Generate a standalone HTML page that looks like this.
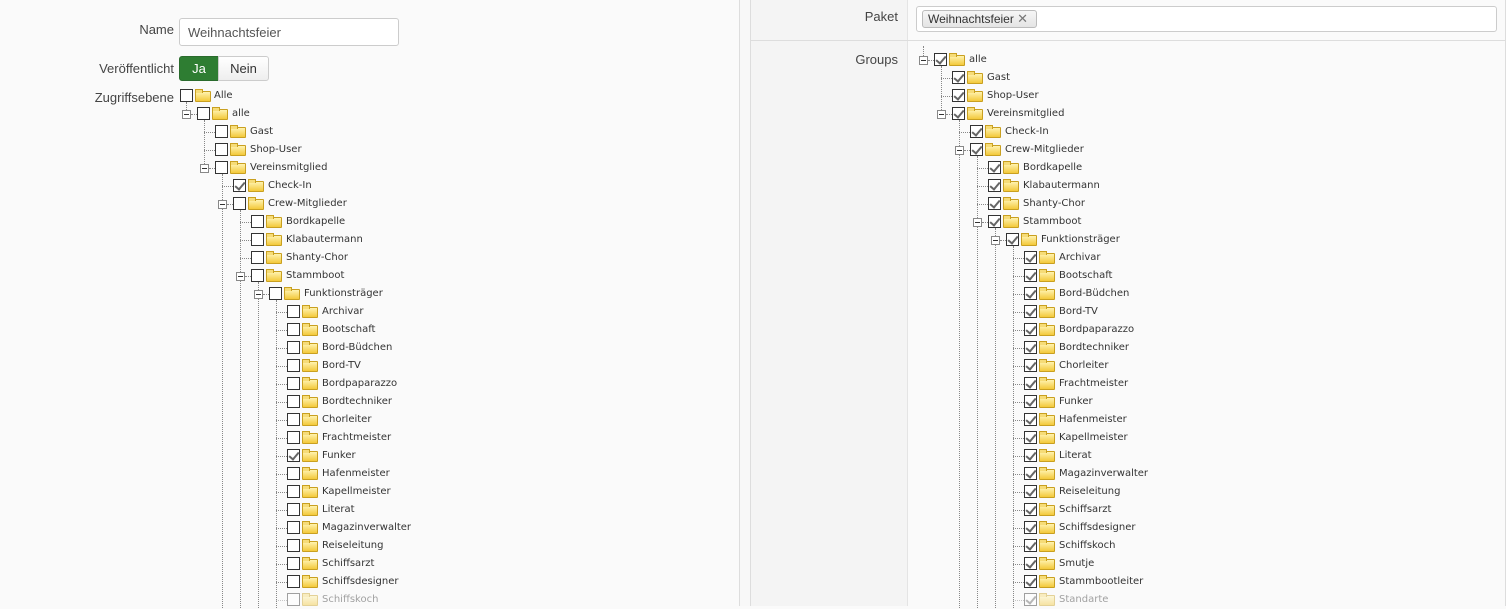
<!DOCTYPE html>
<html><head><meta charset="utf-8"><style>
*{margin:0;padding:0;box-sizing:border-box}
body{width:1506px;height:606px;overflow:hidden;background:#fafafa;position:relative;font-family:"Liberation Sans",Arial,sans-serif;color:#333}
.a{position:absolute}
.lbl{position:absolute;font-size:13px;color:#444;text-align:right;line-height:16px}
.r{position:absolute;height:18px;width:300px;margin-top:2px}
.cb{position:absolute;left:0;top:2px;width:13px;height:13px;border:1px solid #333;background:#fff}
.ck .cb:after{content:"";position:absolute;left:3px;top:0px;width:4px;height:8px;border-right:2px solid #666;border-bottom:2px solid #666;transform:rotate(40deg)}
.f{position:absolute;left:15px;top:4px;width:16px;height:11px;background:linear-gradient(#fff3b0,#f3c93a);border:1px solid #c9a020;border-radius:1px}
.f:before{content:"";position:absolute;left:-1px;top:-3px;width:6px;height:3px;background:#f6dc78;border:1px solid #c9a020;border-bottom:none}
.t{position:absolute;left:35px;top:0;line-height:18px;font-family:"DejaVu Sans",Verdana,sans-serif;font-size:10px;letter-spacing:0;color:#333;white-space:nowrap}
.h{position:absolute;top:9px;left:-11px;width:11px;border-top:1px dotted #888}
.m{position:absolute;top:5px;left:-15px;width:9px;height:9px;border:1px solid #888;background:#fff}
.m:after{content:"";position:absolute;left:1px;top:3px;width:5px;height:1px;background:#333}
.mh{position:absolute;top:9px;left:-6px;width:6px;border-top:1px dotted #888}
.v{position:absolute;width:1px;border-left:1px dotted #888;margin-top:2px}
.fd{opacity:.45}
</style></head><body>
<div class="lbl" style="left:100px;top:22px;width:74px">Name</div>
<div class="a" style="left:179px;top:18px;width:220px;height:28px;border:1px solid #ccc;border-radius:3px;background:#fff;font-size:13px;line-height:27px;padding-left:8px;color:#555">Weihnachtsfeier</div>
<div class="lbl" style="left:60px;top:61px;width:114px">Veröffentlicht</div>
<div class="a" style="left:179px;top:56px;width:40px;height:25px;background:#2e7d32;border:1px solid #2a6b2d;border-radius:3px 0 0 3px;color:#fff;font-size:13px;line-height:23px;text-align:center">Ja</div>
<div class="a" style="left:218px;top:56px;width:51px;height:25px;background:linear-gradient(#fff,#eee);border:1px solid #ccc;border-radius:0 3px 3px 0;font-size:13px;line-height:23px;text-align:center">Nein</div>
<div class="lbl" style="left:60px;top:90px;width:114px">Zugriffsebene</div>

<div class="a" style="left:739px;top:0;width:1px;height:606px;background:#ddd"></div>
<div class="a" style="left:740px;top:0;width:10px;height:606px;background:#f8f8f8"></div>
<div class="a" style="left:750px;top:0;width:1px;height:606px;background:#ddd"></div>
<div class="a" style="left:751px;top:0;width:156px;height:606px;background:#f4f4f4"></div>
<div class="a" style="left:907px;top:0;width:1px;height:606px;background:#e4e4e4"></div>
<div class="a" style="left:751px;top:40px;width:755px;height:1px;background:#ddd"></div>
<div class="a" style="left:1505px;top:0;width:1px;height:606px;background:#ddd"></div>
<div class="lbl" style="left:800px;top:9px;width:98px">Paket</div>
<div class="a" style="left:916px;top:6px;width:581px;height:26px;border:1px solid #ccc;border-radius:3px;background:#fff"></div>
<div class="a" style="left:922px;top:10px;width:115px;height:18px;border:1px solid #bbb;border-radius:3px;background:linear-gradient(#f6f6f6,#e4e4e4);font-size:12px;line-height:16px;padding-left:5px;color:#333">Weihnachtsfeier <span style="color:#777;font-size:13px">✕</span></div>
<div class="lbl" style="left:800px;top:52px;width:98px">Groups</div>

<div class="v" style="left:186px;top:100px;height:8px"></div>
<div class="v" style="left:204px;top:118px;height:44px"></div>
<div class="v" style="left:222px;top:172px;height:434px"></div>
<div class="v" style="left:240px;top:208px;height:398px"></div>
<div class="v" style="left:258px;top:280px;height:326px"></div>
<div class="v" style="left:276px;top:298px;height:308px"></div>
<div class="r" style="left:180px;top:85px"><div class="cb"></div><div class="f"></div><div class="t" style="left:34px">Alle</div></div>
<div class="r" style="left:197px;top:103px"><div class="m"></div><div class="mh"></div><div class="cb"></div><div class="f"></div><div class="t">alle</div></div>
<div class="r" style="left:215px;top:121px"><div class="h"></div><div class="cb"></div><div class="f"></div><div class="t">Gast</div></div>
<div class="r" style="left:215px;top:139px"><div class="h"></div><div class="cb"></div><div class="f"></div><div class="t">Shop-User</div></div>
<div class="r" style="left:215px;top:157px"><div class="m"></div><div class="mh"></div><div class="cb"></div><div class="f"></div><div class="t">Vereinsmitglied</div></div>
<div class="r ck" style="left:233px;top:175px"><div class="h"></div><div class="cb"></div><div class="f"></div><div class="t">Check-In</div></div>
<div class="r" style="left:233px;top:193px"><div class="m"></div><div class="mh"></div><div class="cb"></div><div class="f"></div><div class="t">Crew-Mitglieder</div></div>
<div class="r" style="left:251px;top:211px"><div class="h"></div><div class="cb"></div><div class="f"></div><div class="t">Bordkapelle</div></div>
<div class="r" style="left:251px;top:229px"><div class="h"></div><div class="cb"></div><div class="f"></div><div class="t">Klabautermann</div></div>
<div class="r" style="left:251px;top:247px"><div class="h"></div><div class="cb"></div><div class="f"></div><div class="t">Shanty-Chor</div></div>
<div class="r" style="left:251px;top:265px"><div class="m"></div><div class="mh"></div><div class="cb"></div><div class="f"></div><div class="t">Stammboot</div></div>
<div class="r" style="left:269px;top:283px"><div class="m"></div><div class="mh"></div><div class="cb"></div><div class="f"></div><div class="t">Funktionsträger</div></div>
<div class="r" style="left:287px;top:301px"><div class="h"></div><div class="cb"></div><div class="f"></div><div class="t">Archivar</div></div>
<div class="r" style="left:287px;top:319px"><div class="h"></div><div class="cb"></div><div class="f"></div><div class="t">Bootschaft</div></div>
<div class="r" style="left:287px;top:337px"><div class="h"></div><div class="cb"></div><div class="f"></div><div class="t">Bord-Büdchen</div></div>
<div class="r" style="left:287px;top:355px"><div class="h"></div><div class="cb"></div><div class="f"></div><div class="t">Bord-TV</div></div>
<div class="r" style="left:287px;top:373px"><div class="h"></div><div class="cb"></div><div class="f"></div><div class="t">Bordpaparazzo</div></div>
<div class="r" style="left:287px;top:391px"><div class="h"></div><div class="cb"></div><div class="f"></div><div class="t">Bordtechniker</div></div>
<div class="r" style="left:287px;top:409px"><div class="h"></div><div class="cb"></div><div class="f"></div><div class="t">Chorleiter</div></div>
<div class="r" style="left:287px;top:427px"><div class="h"></div><div class="cb"></div><div class="f"></div><div class="t">Frachtmeister</div></div>
<div class="r ck" style="left:287px;top:445px"><div class="h"></div><div class="cb"></div><div class="f"></div><div class="t">Funker</div></div>
<div class="r" style="left:287px;top:463px"><div class="h"></div><div class="cb"></div><div class="f"></div><div class="t">Hafenmeister</div></div>
<div class="r" style="left:287px;top:481px"><div class="h"></div><div class="cb"></div><div class="f"></div><div class="t">Kapellmeister</div></div>
<div class="r" style="left:287px;top:499px"><div class="h"></div><div class="cb"></div><div class="f"></div><div class="t">Literat</div></div>
<div class="r" style="left:287px;top:517px"><div class="h"></div><div class="cb"></div><div class="f"></div><div class="t">Magazinverwalter</div></div>
<div class="r" style="left:287px;top:535px"><div class="h"></div><div class="cb"></div><div class="f"></div><div class="t">Reiseleitung</div></div>
<div class="r" style="left:287px;top:553px"><div class="h"></div><div class="cb"></div><div class="f"></div><div class="t">Schiffsarzt</div></div>
<div class="r" style="left:287px;top:571px"><div class="h"></div><div class="cb"></div><div class="f"></div><div class="t">Schiffsdesigner</div></div>
<div class="r fd" style="left:287px;top:589px"><div class="h"></div><div class="cb"></div><div class="f"></div><div class="t">Schiffskoch</div></div>

<div class="v" style="left:923px;top:44px;height:10px"></div>
<div class="v" style="left:941px;top:64px;height:44px"></div>
<div class="v" style="left:959px;top:118px;height:488px"></div>
<div class="v" style="left:977px;top:154px;height:452px"></div>
<div class="v" style="left:995px;top:226px;height:380px"></div>
<div class="v" style="left:1013px;top:244px;height:362px"></div>
<div class="r ck" style="left:934px;top:49px"><div class="m"></div><div class="mh"></div><div class="cb"></div><div class="f"></div><div class="t">alle</div></div>
<div class="r ck" style="left:952px;top:67px"><div class="h"></div><div class="cb"></div><div class="f"></div><div class="t">Gast</div></div>
<div class="r ck" style="left:952px;top:85px"><div class="h"></div><div class="cb"></div><div class="f"></div><div class="t">Shop-User</div></div>
<div class="r ck" style="left:952px;top:103px"><div class="m"></div><div class="mh"></div><div class="cb"></div><div class="f"></div><div class="t">Vereinsmitglied</div></div>
<div class="r ck" style="left:970px;top:121px"><div class="h"></div><div class="cb"></div><div class="f"></div><div class="t">Check-In</div></div>
<div class="r ck" style="left:970px;top:139px"><div class="m"></div><div class="mh"></div><div class="cb"></div><div class="f"></div><div class="t">Crew-Mitglieder</div></div>
<div class="r ck" style="left:988px;top:157px"><div class="h"></div><div class="cb"></div><div class="f"></div><div class="t">Bordkapelle</div></div>
<div class="r ck" style="left:988px;top:175px"><div class="h"></div><div class="cb"></div><div class="f"></div><div class="t">Klabautermann</div></div>
<div class="r ck" style="left:988px;top:193px"><div class="h"></div><div class="cb"></div><div class="f"></div><div class="t">Shanty-Chor</div></div>
<div class="r ck" style="left:988px;top:211px"><div class="m"></div><div class="mh"></div><div class="cb"></div><div class="f"></div><div class="t">Stammboot</div></div>
<div class="r ck" style="left:1006px;top:229px"><div class="m"></div><div class="mh"></div><div class="cb"></div><div class="f"></div><div class="t">Funktionsträger</div></div>
<div class="r ck" style="left:1024px;top:247px"><div class="h"></div><div class="cb"></div><div class="f"></div><div class="t">Archivar</div></div>
<div class="r ck" style="left:1024px;top:265px"><div class="h"></div><div class="cb"></div><div class="f"></div><div class="t">Bootschaft</div></div>
<div class="r ck" style="left:1024px;top:283px"><div class="h"></div><div class="cb"></div><div class="f"></div><div class="t">Bord-Büdchen</div></div>
<div class="r ck" style="left:1024px;top:301px"><div class="h"></div><div class="cb"></div><div class="f"></div><div class="t">Bord-TV</div></div>
<div class="r ck" style="left:1024px;top:319px"><div class="h"></div><div class="cb"></div><div class="f"></div><div class="t">Bordpaparazzo</div></div>
<div class="r ck" style="left:1024px;top:337px"><div class="h"></div><div class="cb"></div><div class="f"></div><div class="t">Bordtechniker</div></div>
<div class="r ck" style="left:1024px;top:355px"><div class="h"></div><div class="cb"></div><div class="f"></div><div class="t">Chorleiter</div></div>
<div class="r ck" style="left:1024px;top:373px"><div class="h"></div><div class="cb"></div><div class="f"></div><div class="t">Frachtmeister</div></div>
<div class="r ck" style="left:1024px;top:391px"><div class="h"></div><div class="cb"></div><div class="f"></div><div class="t">Funker</div></div>
<div class="r ck" style="left:1024px;top:409px"><div class="h"></div><div class="cb"></div><div class="f"></div><div class="t">Hafenmeister</div></div>
<div class="r ck" style="left:1024px;top:427px"><div class="h"></div><div class="cb"></div><div class="f"></div><div class="t">Kapellmeister</div></div>
<div class="r ck" style="left:1024px;top:445px"><div class="h"></div><div class="cb"></div><div class="f"></div><div class="t">Literat</div></div>
<div class="r ck" style="left:1024px;top:463px"><div class="h"></div><div class="cb"></div><div class="f"></div><div class="t">Magazinverwalter</div></div>
<div class="r ck" style="left:1024px;top:481px"><div class="h"></div><div class="cb"></div><div class="f"></div><div class="t">Reiseleitung</div></div>
<div class="r ck" style="left:1024px;top:499px"><div class="h"></div><div class="cb"></div><div class="f"></div><div class="t">Schiffsarzt</div></div>
<div class="r ck" style="left:1024px;top:517px"><div class="h"></div><div class="cb"></div><div class="f"></div><div class="t">Schiffsdesigner</div></div>
<div class="r ck" style="left:1024px;top:535px"><div class="h"></div><div class="cb"></div><div class="f"></div><div class="t">Schiffskoch</div></div>
<div class="r ck" style="left:1024px;top:553px"><div class="h"></div><div class="cb"></div><div class="f"></div><div class="t">Smutje</div></div>
<div class="r ck" style="left:1024px;top:571px"><div class="h"></div><div class="cb"></div><div class="f"></div><div class="t">Stammbootleiter</div></div>
<div class="r ck fd" style="left:1024px;top:589px"><div class="h"></div><div class="cb"></div><div class="f"></div><div class="t">Standarte</div></div>
</body></html>
